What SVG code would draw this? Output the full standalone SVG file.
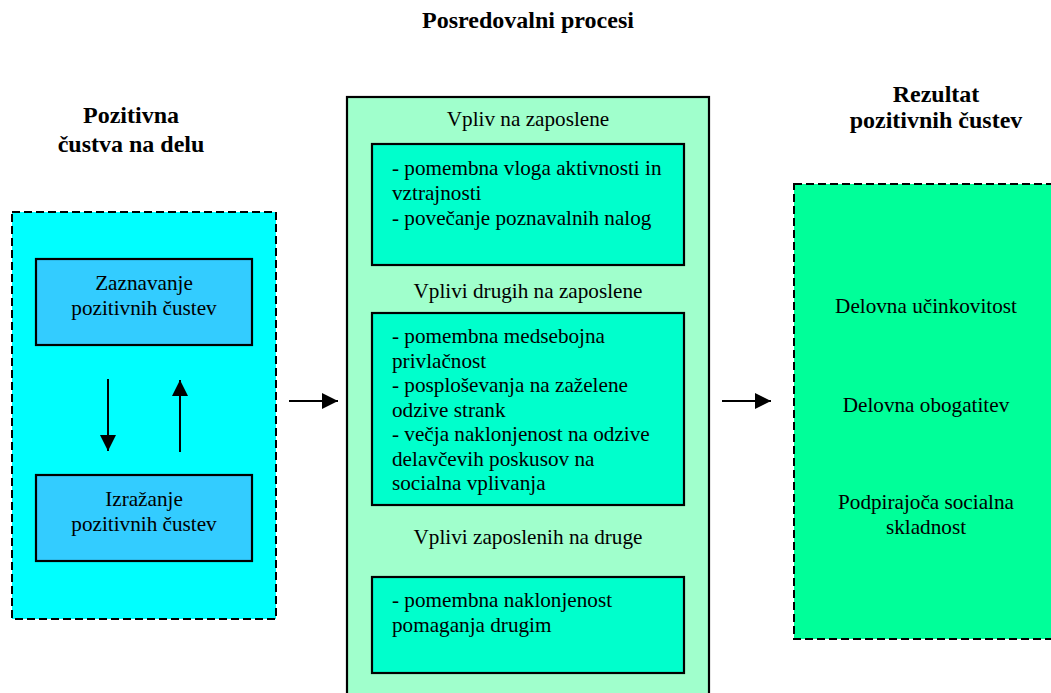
<svg xmlns="http://www.w3.org/2000/svg" width="1051" height="693" viewBox="0 0 1051 693">
  <style>
    text { font-family: "Liberation Serif", Tinos, "Times New Roman", "DejaVu Serif", serif; fill: #000; }
    .head { font-size: 24px; font-weight: bold; text-anchor: middle; }
    .body { font-size: 21.2px; }
    .mid { text-anchor: middle; }
    .dashed { stroke: #000; stroke-width: 2; stroke-dasharray: 8 4; }
    .solid { stroke: #000; stroke-width: 2.2; }
    .conn { stroke: #000; stroke-width: 2; fill: none; }
  </style>
  <defs>
    <marker id="arrow" viewBox="0 0 10 10" refX="10" refY="5" markerWidth="16" markerHeight="16" markerUnits="userSpaceOnUse" orient="auto">
      <path d="M0,0 L10,5 L0,10 Z" fill="#000"/>
    </marker>
  </defs>

  <rect width="1051" height="693" fill="#fff"/>

  <!-- column headings -->
  <text class="head" x="528" y="28">Posredovalni procesi</text>
  <text class="head" x="131" y="123">Pozitivna</text>
  <text class="head" x="131" y="152">čustva na delu</text>
  <text class="head" x="936" y="102">Rezultat</text>
  <text class="head" x="936" y="128">pozitivnih čustev</text>

  <!-- positive emotions at work -->
  <g id="emotions">
    <rect x="12" y="212" width="264" height="407" fill="#00FFFF" class="dashed"/>
  </g>
  <g id="recognition">
    <rect x="36" y="259" width="216" height="86" fill="#33CCFF" class="solid"/>
    <text class="body mid" x="144" y="290">Zaznavanje</text>
    <text class="body mid" x="144" y="315">pozitivnih  čustev</text>
  </g>
  <g id="expression">
    <rect x="36" y="475" width="216" height="86" fill="#33CCFF" class="solid"/>
    <text class="body mid" x="144" y="506">Izražanje</text>
    <text class="body mid" x="144" y="531">pozitivnih čustev</text>
  </g>

  <!-- mediating processes -->
  <g id="processes">
    <rect x="347" y="97" width="362" height="610" fill="#A0FFCC" class="solid"/>
    <text class="body mid" x="528" y="126">Vpliv na zaposlene</text>
    <text class="body mid" x="528" y="298">Vplivi drugih na zaposlene</text>
    <text class="body mid" x="528" y="544">Vplivi zaposlenih na druge</text>
  </g>
  <g id="effect-employees">
    <rect x="372" y="144" width="312" height="121" fill="#00FFCC" class="solid"/>
    <text class="body" x="392" y="175">- pomembna vloga aktivnosti in</text>
    <text class="body" x="392" y="200">vztrajnosti</text>
    <text class="body" x="392" y="225">- povečanje poznavalnih nalog</text>
  </g>
  <g id="effect-others-on-employees">
    <rect x="372" y="313" width="312" height="192" fill="#00FFCC" class="solid"/>
    <text class="body" x="392" y="343">- pomembna medsebojna</text>
    <text class="body" x="392" y="368">privlačnost</text>
    <text class="body" x="392" y="392">- posploševanja na zaželene</text>
    <text class="body" x="392" y="417">odzive strank</text>
    <text class="body" x="392" y="441">- večja naklonjenost na odzive</text>
    <text class="body" x="392" y="466">delavčevih poskusov na</text>
    <text class="body" x="392" y="490">socialna vplivanja</text>
  </g>
  <g id="effect-employees-on-others">
    <rect x="372" y="577" width="312" height="96" fill="#00FFCC" class="solid"/>
    <text class="body" x="392" y="607">- pomembna naklonjenost</text>
    <text class="body" x="392" y="632">pomaganja drugim</text>
  </g>

  <!-- outcomes -->
  <g id="outcomes">
    <rect x="794" y="184" width="262" height="455" fill="#00FF99" class="dashed"/>
    <text class="body mid" x="926" y="313">Delovna učinkovitost</text>
    <text class="body mid" x="926" y="412">Delovna obogatitev</text>
    <text class="body mid" x="926" y="509">Podpirajoča socialna</text>
    <text class="body mid" x="926" y="534">skladnost</text>
  </g>

  <!-- connectors -->
  <g id="connectors">
    <line class="conn" x1="108" y1="379" x2="108" y2="451" marker-end="url(#arrow)"/>
    <line class="conn" x1="180" y1="452" x2="180" y2="380" marker-end="url(#arrow)"/>
    <line class="conn" x1="289" y1="401" x2="338" y2="401" marker-end="url(#arrow)"/>
    <line class="conn" x1="722" y1="401" x2="771" y2="401" marker-end="url(#arrow)"/>
  </g>
</svg>
